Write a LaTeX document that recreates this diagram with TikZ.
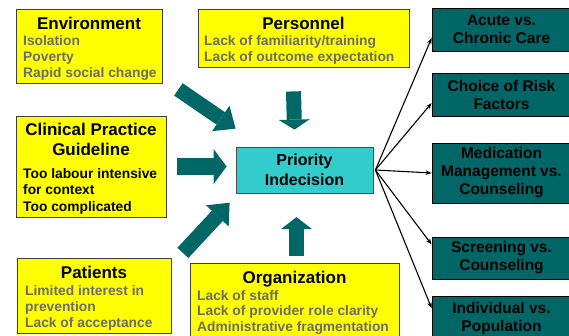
\documentclass[tikz,border=0pt]{standalone}
\usepackage{fontspec}
\setmainfont{Liberation Sans}
\usepackage{xcolor}
\usetikzlibrary{arrows.meta,positioning}

\definecolor{causeyellow}{RGB}{255,255,0}
\definecolor{priocyan}{RGB}{51,204,204}
\definecolor{darkteal}{RGB}{0,102,102}
\definecolor{itemgray}{RGB}{108,108,108}

\begin{document}
\begin{tikzpicture}[x=1pt, y=-1pt,
    every node/.style={inner sep=0pt, font=\bfseries},
    cause/.style={rectangle, draw=black!75, line width=0.8pt, fill=causeyellow},
    head/.style={anchor=base, align=center, font=\fontsize{17}{20}\selectfont\bfseries},
    items/.style={anchor=base west, align=left, text=itemgray, font=\fontsize{13.8}{16}\selectfont\bfseries},
    effect/.style={rectangle, draw=black, line width=0.8pt, fill=darkteal, minimum width=139pt,
        align=center, font=\fontsize{15.5}{18}\selectfont\bfseries},
    fatarrow/.style={draw=darkteal, line width=15pt, -{Triangle[length=#1, width=31pt, line width=0pt]}},
    fatarrow/.default=12pt,
    fan/.style={line width=1.1pt, -{Stealth[length=6pt, width=4.5pt]}}]

    \useasboundingbox (0,0) rectangle (569,335);

    % causes (multi-line text sits on the baseline of its last line)
    \node[cause, minimum width=146pt, minimum height=74pt] (env) at (89,46) {};
    \node[head] (envhead) at (89,29) {Environment};
    \node[items] (envitems) at (23,77) {Isolation\\Poverty\\Rapid social change};

    \node[cause, minimum width=211pt, minimum height=58pt] (pers) at (303.5,38) {};
    \node[head] (pershead) at (303.5,29) {Personnel};
    \node[items] (persitems) at (204,61) {Lack of familiarity/training\\Lack of outcome expectation};

    \node[cause, minimum width=150pt, minimum height=101pt] (cpg) at (91,166.5) {};
    \node[head] (cpghead) at (91,155) {Clinical Practice\\Guideline};
    \node[items, text=black, font=\fontsize{13.8}{16.5}\selectfont\bfseries] (cpgitems) at (23,211)
        {Too labour intensive\\for context\\Too complicated};

    \node[cause, minimum width=154pt, minimum height=75pt] (pat) at (94,295.5) {};
    \node[head] (pathead) at (94,278) {Patients};
    \node[items] (patitems) at (25,327) {Limited interest in\\prevention\\Lack of acceptance};

    \node[cause, minimum width=209pt, minimum height=78pt] (org) at (294.5,302) {};
    \node[head] (orghead) at (294.5,283) {Organization};
    \node[items, font=\fontsize{13.8}{15.7}\selectfont\bfseries] (orgitems) at (197,331.5)
        {Lack of staff\\Lack of provider role clarity\\Administrative fragmentation};

    % centre
    \node[rectangle, draw=black!70, line width=0.8pt, fill=priocyan, minimum width=137pt,
        minimum height=46pt, align=center, font=\fontsize{16}{20}\selectfont\bfseries]
        (prio) at (304.5,170) {Priority\\Indecision};

    % effects
    \node[effect, minimum height=43pt] (acute) at (501.5,29.5) {Acute vs.\\Chronic Care};
    \node[effect, minimum height=43pt] (choice) at (501.5,94.5) {Choice of Risk\\Factors};
    \node[effect, minimum height=60pt] (med) at (501.5,173) {Medication\\Management vs.\\Counseling};
    \node[effect, minimum height=42pt] (scr) at (501.5,258) {Screening vs.\\Counseling};
    \node[effect, minimum height=44pt] (ind) at (501.5,318) {Individual vs.\\Population};

    % big arrows into the centre
    \draw[fatarrow=18pt] ([shift={(16,6)}]env.south east) -- ([shift={(0,-18)}]prio.north west);
    \draw[fatarrow, line width=17pt, -{Triangle[length=13pt, width=35pt, line width=0pt]},
        shorten <=11pt, shorten >=9pt] (cpg.east) -- (cpg.east -| prio.west);
    \draw[fatarrow=18pt] ([shift={(11.5,-4.7)}]pat.north east) -- ([shift={(-6,9.3)}]prio.south west);
    \draw[fatarrow=10pt] ([shift={(-10,24)}]pers.south) -- ([shift={(-10,-17)}]prio.north);
    \draw[fatarrow] ([shift={(2,-6.3)}]org.north) -- ([shift={(-8,23.7)}]prio.south);

    % thin arrows out
    \draw[fan] ([xshift=2pt]prio.east) -- (acute.187);
    \draw[fan] ([xshift=2pt]prio.east) -- (choice.187);
    \draw[fan] ([xshift=2pt]prio.east) -- (med.west);
    \draw[fan] ([xshift=2pt]prio.east) -- (scr.169);
    \draw[fan] ([xshift=2pt]prio.east) -- (ind.172);
\end{tikzpicture}
\end{document}
